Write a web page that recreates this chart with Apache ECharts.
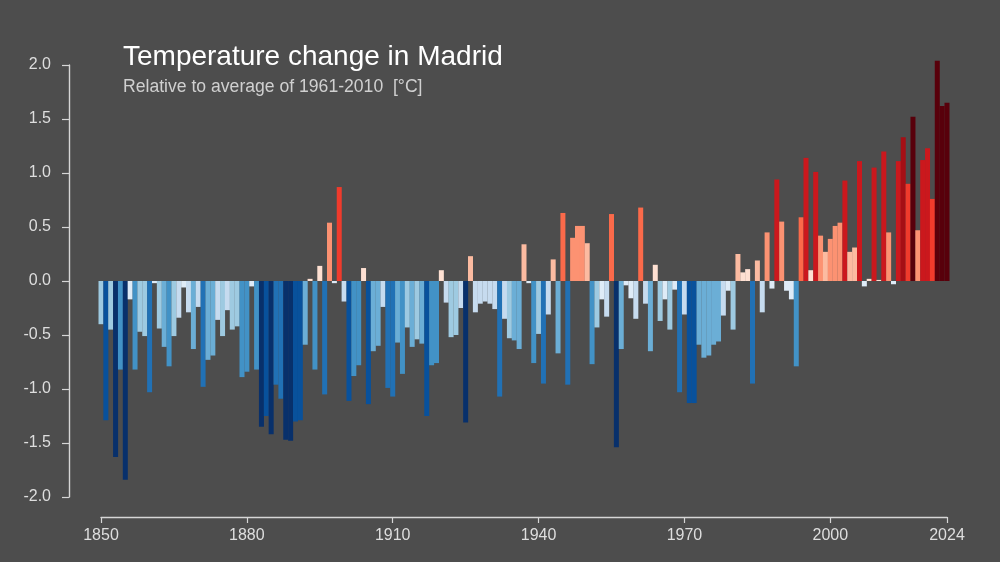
<!DOCTYPE html>
<html>
<head>
<meta charset="utf-8">
<script src="https://cdn.jsdelivr.net/npm/echarts@6/dist/echarts.min.js"></script>
<style>
html,body{margin:0;padding:0;background:#4d4d4d;}
#chart{width:1000px;height:562px;}
</style>
</head>
<body>
<div id="chart"></div>
<script>
// ---- data ----
const startYear = 1850;
const anomalies = [
  -0.40,-1.29,-0.45,-1.63,-0.82,-1.84,-0.17,-0.82,-0.47,-0.51, // 1850-1859
  -1.03,-0.02,-0.44,-0.61,-0.79,-0.51,-0.34,-0.06,-0.29,-0.63, // 1860-1869
  -0.24,-0.98,-0.73,-0.69,-0.36,-0.51,-0.27,-0.45,-0.42,-0.89, // 1870-1879
  -0.84,-0.05,-0.82,-1.35,-1.25,-1.42,-0.96,-1.09,-1.47,-1.48, // 1880-1889
  -1.30,-1.29,-0.59, 0.02,-0.82, 0.14,-1.05, 0.54,-0.02, 0.87, // 1890-1899
  -0.19,-1.11,-0.88,-0.78, 0.12,-1.14,-0.65,-0.60,-0.24,-0.99, // 1900-1909
  -1.07,-0.57,-0.86,-0.43,-0.61,-0.54,-0.58,-1.25,-0.78,-0.76, // 1910-1919
   0.10,-0.20,-0.52,-0.50,-0.25,-1.31, 0.23,-0.29,-0.21,-0.19, // 1920-1929
  -0.21,-0.26,-1.07,-0.35,-0.53,-0.55,-0.63, 0.34,-0.02,-0.76, // 1930-1939
  -0.49,-0.95,-0.31, 0.20,-0.67, 0.63,-0.96, 0.40, 0.51, 0.51, // 1940-1949
   0.35,-0.77,-0.43,-0.17,-0.33, 0.62,-1.54,-0.63,-0.04,-0.16, // 1950-1959
  -0.35, 0.68,-0.21,-0.65, 0.15,-0.37,-0.17,-0.45,-0.08,-1.03, // 1960-1969
  -0.31,-1.13,-1.13,-0.59,-0.71,-0.69,-0.59,-0.56,-0.32,-0.09, // 1970-1979
  -0.45, 0.25, 0.08, 0.11,-0.95, 0.19,-0.29, 0.45,-0.07, 0.94, // 1980-1989
   0.55,-0.09,-0.17,-0.79, 0.59, 1.14, 0.10, 1.01, 0.42, 0.27, // 1990-1999
   0.39, 0.51, 0.54, 0.93, 0.27, 0.31, 1.11,-0.05, 0.02, 1.05, // 2000-2009
   0.01, 1.20, 0.45,-0.03, 1.11, 1.33, 0.90, 1.52, 0.47, 1.12, // 2010-2019
   1.23, 0.76, 2.04, 1.62, 1.65                                 // 2020-2024
];
const years = anomalies.map((_, i) => startYear + i);
const xTickValues = [1850, 1880, 1910, 1940, 1970, 2000, 2024];
const yMin = -2.0, yMax = 2.0, yStep = 0.5;
const titleText = 'Temperature change in Madrid';
const subtitleText = 'Relative to average of 1961-2010  [°C]';

// ---- colour scale (stripes palette) ----
const blues = ['#deebf7','#c6dbef','#9ecae1','#6baed6','#4292c6','#2171b5','#08519c','#08306b'];
const reds  = ['#fee0d2','#fcbba1','#fc9272','#fb6a4a','#ef3b2c','#cb181d','#a50f15','#58000b'];
const blueBounds = [0.18,0.37,0.55,0.74,0.92,1.11,1.305];
const redBounds  = [0.18,0.37,0.56,0.74,0.92,1.25,1.45];
function colorFor(v){
  const a = Math.abs(v);
  const b = v < 0 ? blueBounds : redBounds;
  let i = 0;
  while (i < b.length && a >= b[i]) i++;
  return (v < 0 ? blues : reds)[i];
}

const seriesData = years.map((y, i) => ({
  value: [y, anomalies[i]],
  itemStyle: { color: colorFor(anomalies[i]) }
}));

const axisColor = '#d6d6d6';
const labelColor = '#dedede';
const fontFam = '"Liberation Sans", Arial, Helvetica, sans-serif';

const chart = echarts.init(document.getElementById('chart'), null, {renderer: 'canvas'});
chart.setOption({
  backgroundColor: '#4d4d4d',
  animation: false,
  grid: { left: 101, right: 53, top: 65, bottom: 65, containLabel: false },
  xAxis: {
    type: 'value',
    min: startYear,
    max: years[years.length - 1],
    offset: 20,
    splitLine: { show: false },
    axisLine: { show: true, onZero: false, lineStyle: { color: axisColor, width: 1.4 } },
    axisTick: { show: true, length: 6, inside: false, customValues: xTickValues,
                lineStyle: { color: axisColor, width: 1.2 } },
    axisLabel: { customValues: xTickValues, color: labelColor, fontSize: 16,
                 fontFamily: fontFam, margin: 11, formatter: v => String(v) }
  },
  yAxis: {
    type: 'value',
    min: yMin, max: yMax, interval: yStep,
    offset: 32,
    splitLine: { show: false },
    axisLine: { show: true, onZero: false, lineStyle: { color: axisColor, width: 1.4 } },
    axisTick: { show: true, length: 7, inside: false, lineStyle: { color: axisColor, width: 1.2 } },
    axisLabel: { color: labelColor, fontSize: 16, fontFamily: fontFam, margin: 18,
                 formatter: v => v.toFixed(1) }
  },
  series: [{
    type: 'bar',
    data: seriesData,
    barWidth: 5,
    clip: false,
    itemStyle: { borderWidth: 0 }
  }],
  graphic: [
    { type: 'text', left: 123, top: 43, silent: true,
      style: { text: titleText, fill: '#ffffff', fontSize: 28, fontFamily: fontFam } },
    { type: 'text', left: 123, top: 78, silent: true,
      style: { text: subtitleText, fill: '#d0d0d0', fontSize: 17.6, fontFamily: fontFam } }
  ]
});
</script>
</body>
</html>
